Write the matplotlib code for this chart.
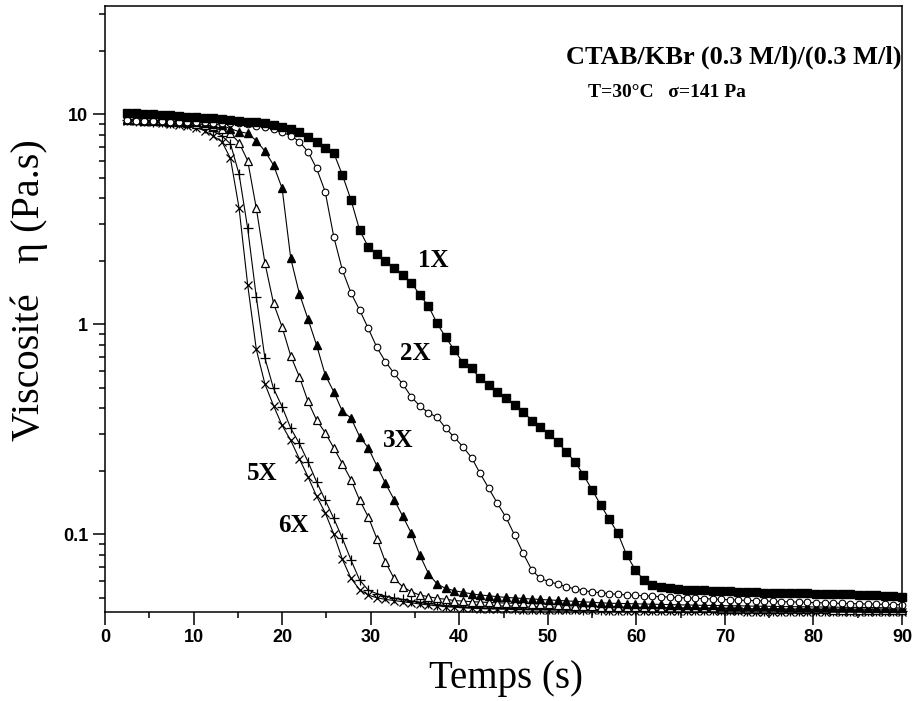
import numpy as np
import matplotlib
matplotlib.use("Agg")
import matplotlib.pyplot as plt
from matplotlib.ticker import FixedLocator, FuncFormatter, MultipleLocator, LogLocator

# sampling times (s), one reading about every second
t = np.linspace(2.5, 90, 91)

# viscosity (Pa.s) for each shearing cycle
eta_1x = [10.18, 10.11, 10.03, 10.0, 9.92, 9.89, 9.81, 9.74, 9.67, 9.63,
          9.57, 9.50, 9.43, 9.33, 9.22, 9.16, 9.06, 8.92, 8.73, 8.50,
          8.26, 7.82, 7.41, 6.89, 6.54, 5.14, 3.91, 2.81, 2.34, 2.16,
          2.01, 1.85, 1.72, 1.58, 1.38, 1.22, 1.01, 0.867, 0.754, 0.656,
          0.617, 0.553, 0.514, 0.478, 0.444, 0.413, 0.384, 0.348, 0.323, 0.300,
          0.276, 0.247, 0.222, 0.192, 0.163, 0.138, 0.118, 0.101, 0.080, 0.068,
          0.0606, 0.0574, 0.0559, 0.0553, 0.0549, 0.0546, 0.0543, 0.0541, 0.0540, 0.0538,
          0.0536, 0.0534, 0.0532, 0.0530, 0.0528, 0.0527, 0.0526, 0.0525, 0.0524, 0.0523,
          0.0522, 0.0521, 0.0520, 0.0519, 0.0518, 0.0516, 0.0514, 0.0512, 0.0510, 0.0506, 0.0502]

eta_2x = [9.35, 9.33, 9.30, 9.28, 9.26, 9.24, 9.22, 9.20, 9.18, 9.16,
          9.14, 9.11, 9.08, 9.06, 8.96, 8.83, 8.67, 8.48, 8.21, 7.91,
          7.41, 6.64, 5.53, 4.28, 2.61, 1.81, 1.41, 1.17, 0.957, 0.777,
          0.664, 0.584, 0.520, 0.452, 0.408, 0.379, 0.361, 0.320, 0.290, 0.261,
          0.232, 0.195, 0.1656, 0.1405, 0.1205, 0.0992, 0.0812, 0.0676, 0.0617, 0.0595,
          0.0580, 0.0563, 0.0550, 0.0540, 0.0532, 0.0527, 0.0522, 0.0518, 0.0515, 0.0512,
          0.0510, 0.0507, 0.0505, 0.0503, 0.0500, 0.0498, 0.0496, 0.0494, 0.0492, 0.0490,
          0.0488, 0.0486, 0.0485, 0.0483, 0.0481, 0.0480, 0.0478, 0.0477, 0.0476, 0.0474,
          0.0473, 0.0472, 0.0470, 0.0469, 0.0468, 0.0467, 0.0466, 0.0465, 0.0464, 0.0463, 0.0462]

eta_3x = [9.45, 9.42, 9.38, 9.35, 9.32, 9.28, 9.24, 9.20, 9.15, 9.08,
          9.00, 8.85, 8.55, 8.26, 8.12, 7.49, 6.68, 5.73, 4.44, 2.06,
          1.40, 1.06, 0.797, 0.575, 0.477, 0.385, 0.358, 0.292, 0.258, 0.212,
          0.175, 0.1465, 0.1221, 0.1015, 0.0795, 0.0650, 0.0580, 0.0553, 0.0539, 0.0530,
          0.0521, 0.0514, 0.0510, 0.0505, 0.0501, 0.0498, 0.0495, 0.0492, 0.0490, 0.0487,
          0.0485, 0.0482, 0.0480, 0.0477, 0.0475, 0.0472, 0.0470, 0.0469, 0.0468, 0.0467,
          0.0466, 0.0465, 0.0464, 0.0463, 0.0462, 0.0461, 0.0460, 0.0459, 0.0459, 0.0458,
          0.0457, 0.0457, 0.0456, 0.0455, 0.0455, 0.0454, 0.0453, 0.0453, 0.0452, 0.0452,
          0.0451, 0.0451, 0.0450, 0.0450, 0.0449, 0.0449, 0.0448, 0.0448, 0.0447, 0.0447, 0.0446]

eta_4x = [9.40, 9.37, 9.34, 9.30, 9.26, 9.22, 9.17, 9.10, 9.02, 8.93,
          8.80, 8.55, 8.12, 7.33, 6.01, 3.57, 1.96, 1.26, 0.970, 0.707,
          0.563, 0.430, 0.350, 0.305, 0.258, 0.217, 0.182, 0.1455, 0.1212, 0.0955,
          0.0738, 0.0617, 0.0563, 0.0533, 0.0514, 0.0505, 0.0496, 0.0491, 0.0484, 0.0481,
          0.0478, 0.0476, 0.0474, 0.0472, 0.0471, 0.0470, 0.0469, 0.0468, 0.0466, 0.0464,
          0.0462, 0.0460, 0.0458, 0.0456, 0.0454, 0.0453, 0.0452, 0.0451, 0.0450, 0.0449,
          0.0449, 0.0448, 0.0447, 0.0447, 0.0446, 0.0445, 0.0445, 0.0444, 0.0444, 0.0443,
          0.0443, 0.0442, 0.0442, 0.0441, 0.0441, 0.0441, 0.0440, 0.0440, 0.0440, 0.0439,
          0.0439, 0.0439, 0.0438, 0.0438, 0.0438, 0.0437, 0.0437, 0.0437, 0.0436, 0.0436, 0.0436]

eta_5x = [9.35, 9.30, 9.26, 9.22, 9.18, 9.12, 9.05, 8.95, 8.80, 8.60,
          8.30, 7.90, 7.23, 5.19, 2.86, 1.35, 0.69, 0.495, 0.405, 0.320,
          0.271, 0.222, 0.178, 0.1455, 0.119, 0.0957, 0.0755, 0.0606, 0.0543, 0.0522,
          0.0508, 0.0498, 0.0490, 0.0482, 0.0475, 0.0469, 0.0463, 0.0458, 0.0454, 0.0451,
          0.0449, 0.0447, 0.0446, 0.0445, 0.0444, 0.0443, 0.0442, 0.0441, 0.0441, 0.0440,
          0.0440, 0.0439, 0.0439, 0.0438, 0.0438, 0.0438, 0.0437, 0.0437, 0.0437, 0.0436,
          0.0436, 0.0436, 0.0436, 0.0435, 0.0435, 0.0435, 0.0435, 0.0434, 0.0434, 0.0434,
          0.0434, 0.0434, 0.0433, 0.0433, 0.0433, 0.0433, 0.0433, 0.0432, 0.0432, 0.0432,
          0.0432, 0.0432, 0.0432, 0.0431, 0.0431, 0.0431, 0.0431, 0.0431, 0.0431, 0.0430, 0.0430]

eta_6x = [9.30, 9.25, 9.20, 9.15, 9.10, 9.02, 8.93, 8.82, 8.65, 8.35,
          7.88, 7.41, 6.17, 3.57, 1.54, 0.760, 0.520, 0.410, 0.330, 0.280,
          0.229, 0.188, 0.152, 0.1268, 0.1003, 0.0760, 0.0617, 0.0546, 0.0514, 0.0499,
          0.0490, 0.0484, 0.0478, 0.0472, 0.0466, 0.0461, 0.0457, 0.0453, 0.0450, 0.0447,
          0.0445, 0.0443, 0.0442, 0.0441, 0.0440, 0.0439, 0.0438, 0.0437, 0.0437, 0.0436,
          0.0436, 0.0435, 0.0435, 0.0434, 0.0434, 0.0434, 0.0433, 0.0433, 0.0433, 0.0432,
          0.0432, 0.0432, 0.0432, 0.0431, 0.0431, 0.0431, 0.0431, 0.0430, 0.0430, 0.0430,
          0.0430, 0.0430, 0.0429, 0.0429, 0.0429, 0.0429, 0.0429, 0.0428, 0.0428, 0.0428,
          0.0428, 0.0428, 0.0428, 0.0427, 0.0427, 0.0427, 0.0427, 0.0427, 0.0427, 0.0426, 0.0426]

# curve labels: text, time, viscosity
curve_labels = [("1X", 35.3, 1.875), ("2X", 33.3, 0.676), ("3X", 31.4, 0.261),
                ("5X", 16.0, 0.1816), ("6X", 19.6, 0.1026)]

serif = "Liberation Serif"
sans = "Liberation Sans"

fig = plt.figure(figsize=(9.18, 7.01), dpi=100)
ax = fig.add_axes([0.1144, 0.1270, 0.8682, 0.8649])

line_kw = dict(color="black", lw=0.8, clip_on=False)
ax.plot(t, eta_6x, marker="x", ms=5.5, mew=0.9, **line_kw)
ax.plot(t, eta_5x, marker="+", ms=6.5, mew=0.9, **line_kw)
ax.plot(t, eta_4x, marker="^", ms=6, mfc="white", mec="black", mew=0.9, **line_kw)
ax.plot(t, eta_3x, marker="^", ms=6, mfc="black", mec="black", **line_kw)
ax.plot(t, eta_2x, marker="o", ms=4.8, mfc="white", mec="black", mew=0.8, **line_kw)
ax.plot(t, eta_1x, marker="s", ms=6, mfc="black", mec="black", **line_kw)

ax.set_yscale("log")
ax.set_xlim(0, 90)
ax.set_ylim(0.0427, 32.9)

ax.xaxis.set_major_locator(MultipleLocator(10))
ax.xaxis.set_minor_locator(MultipleLocator(5))
ax.yaxis.set_major_locator(FixedLocator([0.1, 1, 10]))
ax.yaxis.set_minor_locator(LogLocator(base=10, subs=np.arange(2, 10)))
ax.yaxis.set_major_formatter(FuncFormatter(lambda v, p: "%g" % v))
ax.yaxis.set_minor_formatter(FuncFormatter(lambda v, p: ""))

ax.tick_params(which="both", direction="out", top=False, right=False, width=1.1)
ax.tick_params(which="major", length=9, pad=3)
ax.tick_params(which="minor", length=4.5)
for lab in ax.get_xticklabels() + ax.get_yticklabels():
    lab.set_fontfamily(sans)
    lab.set_fontweight("bold")
    lab.set_fontsize(13)
for sp in ax.spines.values():
    sp.set_linewidth(1.1)

for txt, x, y in curve_labels:
    ax.text(x, y, txt, fontfamily=serif, fontweight="bold", fontsize=18,
            ha="left", va="baseline")

fig.text(0.9815, 0.910, "CTAB/KBr (0.3 M/l)/(0.3 M/l)", fontfamily=serif,
         fontweight="bold", fontsize=19, ha="right", va="baseline")
fig.text(0.6405, 0.862, "T=30°C   σ=141 Pa", fontfamily=serif,
         fontweight="bold", fontsize=14, ha="left", va="baseline")

fig.text(0.032, 0.586, "Viscosité   η (Pa.s)", fontfamily=serif, fontsize=29,
         rotation=90, ha="center", va="center")
fig.text(0.551, 0.0185, "Temps (s)", fontfamily=serif, fontsize=28,
         ha="center", va="baseline")

fig.savefig("out.png", dpi=100)
